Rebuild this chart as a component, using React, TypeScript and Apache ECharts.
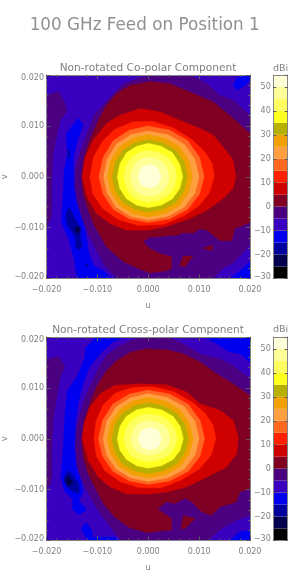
import React, { useEffect, useRef } from "react";
import * as echarts from "echarts";

type P = number[][];

const TITLE = "100 GHz Feed on Position 1";
const CO_TITLE = "Non-rotated Co-polar Component";
const CROSS_TITLE = "Non-rotated Cross-polar Component";
const BAR_TITLE = "dBi";

// dB band lower edges and their colours
const LEVELS = [-30, -25, -20, -15, -10, -5, 0, 5, 10, 15, 20, 25, 30, 35, 40, 45, 50];
const COLORS = ["#000000", "#00004f", "#00009f", "#0000ee", "#3a00c0", "#4a0080", "#800024", "#cf0000", "#ff2000", "#ff6820", "#ff9f40", "#f0a000", "#b8b000", "#ffff20", "#ffff60", "#ffff98", "#ffffd8"];

// contour outlines, [u, v] in units of 0.001
const frame: P = [[-20, -20], [20, -20], [20, 20], [-20, 20]];

const coBlueStrip: P = [[-13.8, 11.5], [-12.8, 10.2], [-14, 6.8], [-14.7, 3.5], [-14.6, -0.4], [-14, -3.7], [-13, -6.9], [-12.3, -10.9], [-11.7, -14.8], [-10.7, -17.4], [-8.4, -18.7], [-7.2, -20], [-14, -20], [-14.6, -16.1], [-15.6, -12.5], [-17.1, -8.9], [-16.9, -5.6], [-16.7, -2.4], [-16.6, 0.9], [-15.9, 4.8], [-16.2, 8.4]];
const coBlueTopRight: P = [[16.7, 18], [17.5, 19.5], [19.3, 19.9], [20, 19.8], [20, 19], [18.7, 17.7], [17.4, 17]];
const coBlueBottomRight: P = [[16, -20], [17.7, -18.7], [20, -16.7], [20, -20]];
const coNavyBlob: P = [[-16, -6.6], [-15.4, -6.2], [-14.3, -8.3], [-13.2, -10.2], [-13.4, -11.5], [-13, -13.5], [-13.4, -14.3], [-14.3, -14.1], [-14.3, -12.2], [-14.9, -10.9], [-15.9, -9.6], [-16.2, -7.9]];
const coNavySlit: P = [[-15.8, 5.5], [-15.4, 5.2], [-15.5, 3.5], [-15.8, 3.9]];
const coNavySpot: P = [[-12.4, -17.4], [-12.1, -17.1], [-11.9, -17.4], [-12.1, -17.8]];
const coDarkSpot: P = [[-14.5, -10.2], [-14, -9.8], [-13.3, -10.2], [-13.6, -11], [-14.3, -11]];
const coPurpleLeft: P = [[-20, 16], [-17.6, 16.8], [-16.6, 15], [-15.9, 13], [-17.2, 11.1], [-17.9, 8.4], [-18.7, 4.2], [-18.9, -0.4], [-18.9, -5.6], [-19.1, -8.3], [-20, -9.9]];
const coPurpleMain: P = [[20, 12.1], [16.7, 15.1], [14.1, 16], [11.5, 18.3], [8.8, 19.8], [7.5, 20], [1.6, 20], [-1.6, 19.5], [-4.9, 18.3], [-7.5, 15.7], [-10.7, 12.1], [-12.3, 7.8], [-13.4, 4.8], [-14.3, 1.6], [-14.5, -1.7], [-14, -5], [-13, -8.3], [-11.7, -11.5], [-10, -14.8], [-8.7, -17.4], [-6.2, -20], [12.8, -20], [14.7, -18], [16.7, -17], [20, -13.4]];
const coDarkRedMain: P = [[20, 8.5], [16.7, 11.5], [12.8, 14.7], [8.8, 16.4], [4.3, 18.3], [0.3, 18.7], [-3.6, 18], [-6.2, 16.4], [-8.2, 14.1], [-9.8, 11.1], [-11.5, 7.2], [-12.6, 3.9], [-13.1, 0], [-12.8, -3.3], [-11.8, -6.6], [-10.5, -9.8], [-8.2, -13.8], [-4.9, -16.7], [-1.6, -18.2], [0.3, -18.9], [3.6, -18.5], [4.6, -18], [4.6, -15.7], [2.3, -15.1], [0.3, -14.1], [-1, -12.8], [0.3, -11.9], [5.6, -11.5], [6.9, -11], [8.8, -11.1], [10.2, -10.2], [11.5, -10.5], [14.1, -12.6], [16.4, -12.6], [17, -10.2], [20, -9]];
const coIslandA: P = [[6.1, -17.5], [6.9, -15.6], [8.8, -15.6], [7.2, -17.7]];
const coIslandB: P = [[10.8, -14], [12.6, -13.4], [12.6, -14.4], [11.8, -14.4]];
const coRed: P = [[-5.6, 12.1], [-1.6, 13.4], [2.3, 12.8], [6.2, 11.1], [10.2, 9.5], [12.8, 8.2], [14.7, 5.9], [16.7, 3.3], [17.2, 0], [16.7, -2.3], [14.7, -4.3], [11.5, -6.6], [8.2, -8.2], [3.6, -9.8], [0, -10.5], [-4.3, -10.5], [-7.5, -9.2], [-10.2, -7.2], [-12.1, -3.9], [-13, 0], [-12.4, 3.9], [-10.8, 7.2], [-8.2, 10.5]];
const coBright: P = [[13, 0], [12.6, 2.5], [11.2, 4.8], [8.6, 7.3], [5, 9.6], [1, 10.9], [-3, 10.8], [-6.5, 9.4], [-9, 7], [-10.8, 3.8], [-11.5, 0], [-10.9, -3.4], [-9, -6.2], [-6, -8.4], [-2, -9.6], [3, -9.4], [7, -7.7], [10, -5.7], [12, -3.2]];
const co15: P = [[11, 0], [10.1, 3.8], [7.8, 7.1], [4.2, 9.2], [0, 10], [-3.7, 9.2], [-6.9, 7.1], [-8.9, 3.8], [-9.7, 0], [-8.9, -3.4], [-6.9, -6.4], [-3.7, -8.3], [0, -9], [4.2, -8.3], [7.8, -6.4], [10.1, -3.4]];
const co20: P = [[10, 0], [9.2, 3.4], [7.1, 6.4], [3.8, 8.3], [0, 9], [-3.4, 8.3], [-6.3, 6.4], [-8.1, 3.4], [-8.8, 0], [-8.1, -3.2], [-6.3, -6], [-3.4, -7.8], [0, -8.5], [3.8, -7.8], [7.1, -6], [9.2, -3.2]];
const co25: P = [[8.7, 0], [8, 3.2], [6.2, 5.9], [3.3, 7.6], [0, 8.3], [-3, 7.6], [-5.7, 5.9], [-7.4, 3.2], [-8, 0], [-7.4, -3], [-5.7, -5.6], [-3, -7.3], [0, -7.9], [3.3, -7.3], [6.2, -5.6], [8, -3]];
const co30: P = [[7.7, 0], [7.1, 2.8], [5.5, 5.2], [2.9, 6.7], [0, 7.3], [-2.7, 6.7], [-5, 5.2], [-6.5, 2.8], [-7.1, 0], [-6.5, -2.7], [-5, -5], [-2.7, -6.4], [0, -7], [2.9, -6.4], [5.5, -5], [7.1, -2.7]];
const co35: P = [[6.8, 0], [6.2, 2.5], [4.8, 4.7], [2.6, 6], [0, 6.6], [-2.3, 6], [-4.3, 4.7], [-5.6, 2.5], [-6.1, 0], [-5.6, -2.3], [-4.3, -4.3], [-2.3, -5.6], [0, -6.1], [2.6, -5.6], [4.8, -4.3], [6.2, -2.3]];
const co40: P = [[5.6, 0], [5.2, 2], [4, 3.7], [2.1, 4.8], [0, 5.2], [-1.8, 4.8], [-3.4, 3.7], [-4.4, 2], [-4.8, 0], [-4.4, -1.9], [-3.4, -3.6], [-1.8, -4.6], [0, -5], [2.1, -4.6], [4, -3.6], [5.2, -1.9]];
const co45: P = [[4.1, 0], [3.8, 1.5], [2.9, 2.8], [1.6, 3.6], [0, 3.9], [-1.3, 3.6], [-2.5, 2.8], [-3.2, 1.5], [-3.5, 0], [-3.2, -1.5], [-2.5, -2.8], [-1.3, -3.6], [0, -3.9], [1.6, -3.6], [2.9, -2.8], [3.8, -1.5]];
const co50: P = [[2.6, 0], [1.9, 1.7], [0.3, 2.5], [-1.4, 1.8], [-2, 0], [-1.4, -1.6], [0.3, -2.3], [1.9, -1.6]];

const crossBlueMain: P = [[-4.6, 20], [-6.9, 19], [-9.2, 17], [-11.5, 14.1], [-12.8, 10.8], [-13.8, 6.9], [-14.3, 2.9], [-14.3, -1.1], [-14, -5.7], [-13.2, -8.3], [-12.8, -10.3], [-13.6, -12.2], [-12.1, -13.9], [-13.6, -15], [-14.9, -13.9], [-14.9, -11.9], [-16.4, -10.3], [-17.2, -7.7], [-16.7, -1.1], [-16.4, 4.8], [-15.9, 9.4], [-14, 12.3], [-12.5, 15.8], [-12.3, 17.9], [-10.3, 20]];
const crossBlueLow: P = [[-13.2, -17.7], [-12.2, -16.4], [-10.9, -18.3], [-11.1, -19.3], [-6.6, -19.3], [-5.6, -20], [-12, -20]];
const crossBlueTopRight: P = [[10.8, 20], [12.8, 19], [16, 17], [18, 16.7], [20, 15.1], [20, 20]];
const crossBlueBottomRight: P = [[16, -20], [18, -18.3], [20, -18], [20, -20]];
const crossNavy: P = [[-16.6, -7.7], [-15.8, -6.2], [-14.9, -7], [-13.6, -9], [-13.6, -10.8], [-14.9, -10.3], [-16.2, -9.3]];
const crossDark: P = [[-16.4, -8.3], [-15.8, -7.3], [-14.7, -8.6], [-15.6, -9.3]];
const crossPurpleLeft: P = [[-20, 15.6], [-17.6, 16.2], [-16.4, 14.3], [-17.2, 12.3], [-17.9, 8.7], [-18.7, 3.5], [-18.9, -1.8], [-18.9, -7], [-19.2, -9], [-20, -9.8]];
const crossPurpleMain: P = [[20, 11.8], [16.7, 14.4], [14.1, 15.7], [10.2, 16.7], [7.5, 18.3], [5.6, 19.3], [3.6, 20], [0, 20], [-2.9, 19.5], [-5.6, 18.3], [-8.2, 16.4], [-9.5, 14.4], [-10.8, 11.8], [-12.4, 8.2], [-13.4, 4.9], [-14.2, 1.6], [-14.4, -1.6], [-14, -5.6], [-12.8, -8.8], [-11.1, -12.1], [-9.5, -14.7], [-6.2, -19], [-5.2, -20], [11.8, -20], [14.4, -17.7], [17.4, -16], [20, -15.1]];
const crossDarkRedMain: P = [[20, 8.5], [16.7, 10.8], [13.4, 12.8], [10.2, 15.1], [6.9, 16.7], [3.6, 17.5], [-0.3, 17.7], [-3.6, 17], [-6.2, 15.4], [-8.2, 13.4], [-10.2, 10.2], [-11.5, 6.9], [-12.6, 3.6], [-13.1, 0], [-12.8, -3.6], [-11.8, -6.9], [-10.5, -9.5], [-8.8, -12.8], [-6.6, -15.4], [-3.9, -17.4], [-0.3, -18.5], [2.9, -18.1], [4.6, -18], [4.6, -15.7], [1.8, -13.8], [3.6, -12.4], [5.2, -12.8], [7.2, -11.7], [8.5, -12.4], [10.5, -14.4], [12.4, -15.1], [14.1, -13.4], [17.4, -12.4], [18, -10.5], [20, -9.8]];
const crossIsland: P = [[6.4, -17.7], [6.9, -15.1], [9.2, -15.7], [7.2, -17.7]];
const crossRed: P = [[-6.6, 10.5], [-1.6, 10.8], [3.6, 10.6], [7.5, 9.2], [10.2, 6.9], [14.1, 5.6], [16.7, 3.6], [17.7, 0.3], [17.4, -2.9], [15.4, -5.6], [11.5, -7.5], [7.5, -9.5], [3.6, -10.5], [-0.3, -10.9], [-4.3, -10.8], [-7.5, -9.5], [-9.8, -7.5], [-11.8, -4.3], [-13, 0], [-12.6, 2.9], [-11.5, 6.2], [-9.5, 8.8]];
const crossBright: P = [[13.3, 0], [12.8, 2.6], [11.2, 5], [8.8, 7.1], [5, 9.3], [1, 10.2], [-3, 10.1], [-6.5, 9], [-9, 6.5], [-10.3, 3.4], [-10.7, 0], [-10.2, -3.4], [-8.6, -6.2], [-5.6, -8.4], [-2, -9.6], [2.5, -9.7], [6.5, -8.1], [10, -6], [12.4, -3.2]];
const cross15: P = [[11.1, 0], [10.2, 3.6], [7.9, 6.8], [4.2, 8.8], [0, 9.6], [-3.7, 8.8], [-7, 6.8], [-9, 3.6], [-9.8, 0], [-9, -3.4], [-7, -6.4], [-3.7, -8.3], [0, -9], [4.2, -8.3], [7.9, -6.4], [10.2, -3.4]];
const cross20: P = [[10, 0], [9.2, 3.4], [7.1, 6.3], [3.8, 8.1], [0, 8.9], [-3.4, 8.1], [-6.3, 6.3], [-8.2, 3.4], [-8.9, 0], [-8.2, -3.2], [-6.3, -6], [-3.4, -7.7], [0, -8.4], [3.8, -7.7], [7.1, -6], [9.2, -3.2]];
const cross25: P = [[8.9, 0], [8.1, 3.1], [6.3, 5.7], [3.4, 7.4], [0, 8.1], [-3.1, 7.4], [-5.7, 5.7], [-7.4, 3.1], [-8.1, 0], [-7.4, -2.9], [-5.7, -5.5], [-3.1, -7.1], [0, -7.7], [3.4, -7.1], [6.3, -5.5], [8.1, -2.9]];
const cross30: P = [[7.9, 0], [7.3, 2.7], [5.6, 5], [3, 6.5], [0, 7.1], [-2.7, 6.5], [-5.1, 5], [-6.6, 2.7], [-7.2, 0], [-6.6, -2.6], [-5.1, -4.9], [-2.7, -6.3], [0, -6.9], [3, -6.3], [5.6, -4.9], [7.3, -2.6]];
const cross35: P = [[6.9, 0], [6.3, 2.4], [4.9, 4.4], [2.6, 5.7], [0, 6.2], [-2.3, 5.7], [-4.3, 4.4], [-5.6, 2.4], [-6.1, 0], [-5.6, -2.2], [-4.3, -4.1], [-2.3, -5.3], [0, -5.8], [2.6, -5.3], [4.9, -4.1], [6.3, -2.2]];
const cross40: P = [[5.7, 0], [5.2, 1.9], [4, 3.5], [2.2, 4.5], [0, 4.9], [-1.8, 4.5], [-3.4, 3.5], [-4.4, 1.9], [-4.8, 0], [-4.4, -1.7], [-3.4, -3.3], [-1.8, -4.2], [0, -4.6], [2.2, -4.2], [4, -3.3], [5.2, -1.7]];
const cross45: P = [[4.3, 0], [4, 1.4], [3.1, 2.6], [1.6, 3.3], [0, 3.6], [-1.3, 3.3], [-2.4, 2.6], [-3.1, 1.4], [-3.4, 0], [-3.1, -1.3], [-2.4, -2.3], [-1.3, -3], [0, -3.3], [1.6, -3], [3.1, -2.3], [4, -1.3]];
const cross50: P = [[2.7, 0], [2, 1.6], [0.3, 2.3], [-1.4, 1.6], [-2, 0], [-1.4, -1.6], [0.3, -2.2], [2, -1.6]];

// painter's order: [band lower edge, outline]
const coLayers: [number, P][] = [
  [-10, frame], [-15, coBlueStrip], [-15, coBlueTopRight], [-15, coBlueBottomRight],
  [-20, coNavyBlob], [-20, coNavySlit], [-20, coNavySpot], [-25, coDarkSpot],
  [-5, coPurpleLeft], [-5, coPurpleMain], [0, coDarkRedMain], [0, coIslandA], [0, coIslandB],
  [5, coRed], [10, coBright], [15, co15], [20, co20], [25, co25], [30, co30], [35, co35], [40, co40], [45, co45], [50, co50],
];
const crossLayers: [number, P][] = [
  [-10, frame], [-15, crossBlueMain], [-15, crossBlueLow], [-15, crossBlueTopRight], [-15, crossBlueBottomRight],
  [-20, crossNavy], [-25, crossDark],
  [-5, crossPurpleLeft], [-5, crossPurpleMain], [0, crossDarkRedMain], [0, crossIsland],
  [5, crossRed], [10, crossBright], [15, cross15], [20, cross20], [25, cross25], [30, cross30], [35, cross35], [40, cross40], [45, cross45], [50, cross50],
];

const FONT = "DejaVu Sans";
const TEXT = "#808080";
const LINE = "#858585";
const TICK = "#5c5c5c";
const PLOT_LEFT = 46.5;
const PLOT_SIZE = 203.5;
const BAR_LEFT = 273.3;
const BAR_WIDTH = 14.4;
const TOPS = [75, 337];

const color = (level: number) => COLORS[LEVELS.indexOf(level)];

function uvLabel(v: number) {
  const t = Math.abs(v).toFixed(3);
  return v < -1e-9 ? "\u2212" + t : t;
}
const richBase = { color: TEXT, fontSize: 8, fontFamily: FONT };

function buildOption() {
  const grid: any[] = [];
  const xAxis: any[] = [];
  const yAxis: any[] = [];
  const series: any[] = [];

  const box = (pos: string) => ({
    axisLine: { show: true, onZero: false, lineStyle: { color: LINE, width: 1 } },
    axisTick: { show: true, inside: true, length: 4, lineStyle: { color: TICK, width: 1 } },
    minorTick: { show: true, splitNumber: 5, length: 2, lineStyle: { color: TICK, width: 1 } },
    splitLine: { show: false },
    z: 5,
    position: pos,
  });
  const plainLine = { show: true, onZero: false, lineStyle: { color: LINE } };

  TOPS.forEach((top, p) => {
    const base = p * 2;
    grid.push({ left: PLOT_LEFT, top, width: PLOT_SIZE, height: PLOT_SIZE, outerBoundsMode: "none" });
    grid.push({ left: BAR_LEFT, top, width: BAR_WIDTH, height: PLOT_SIZE, outerBoundsMode: "none" });
    const xIndex = xAxis.length;
    const yIndex = yAxis.length;
    xAxis.push({
      ...box("bottom"), type: "value", gridIndex: base, min: -0.02, max: 0.02, interval: 0.01,
      name: "u", nameLocation: "middle", nameGap: 22, nameMoveOverlap: false,
      nameTextStyle: { color: TEXT, fontSize: 8.5, fontFamily: FONT },
      axisLabel: { color: TEXT, fontSize: 8, fontFamily: FONT, margin: 6.5, formatter: uvLabel, hideOverlap: false, showMinLabel: true, showMaxLabel: true },
    });
    xAxis.push({ ...box("top"), type: "value", gridIndex: base, min: -0.02, max: 0.02, interval: 0.01, axisLabel: { show: false } });
    yAxis.push({
      ...box("left"), type: "value", gridIndex: base, min: -0.02, max: 0.02, interval: 0.01,
      name: "v", nameLocation: "middle", nameGap: 38, nameMoveOverlap: false,
      nameTextStyle: { color: TEXT, fontSize: 8.5, fontFamily: FONT },
      axisLabel: {
        color: TEXT, fontSize: 8, fontFamily: FONT, margin: 2.5, hideOverlap: false,
        formatter: (v: number) => (v >= 0.0199 ? `{down|${uvLabel(v)}}` : v <= -0.0199 ? `{up|${uvLabel(v)}}` : uvLabel(v)),
        rich: { down: { ...richBase, padding: [5, 0, 0, 0] }, up: { ...richBase, padding: [0, 0, 5, 0] } },
      },
    });
    yAxis.push({ ...box("right"), type: "value", gridIndex: base, min: -0.02, max: 0.02, interval: 0.01, axisLabel: { show: false } });
    const layers = p === 0 ? coLayers : crossLayers;
    series.push({
      type: "custom", coordinateSystem: "cartesian2d", xAxisIndex: xIndex, yAxisIndex: yIndex, clip: true, silent: true,
      data: layers.map((l, i) => [i, l[0]]),
      renderItem: (params: any, api: any) => {
        const [level, outline] = layers[params.dataIndex];
        return {
          type: "polygon",
          shape: { points: outline.map(([u, v]) => api.coord([u * 0.001, v * 0.001])) },
          style: { fill: color(level), stroke: color(level), lineWidth: 0.3 },
        };
      },
    });

    const barX = xAxis.length;
    const barY = yAxis.length;
    xAxis.push({ type: "value", gridIndex: base + 1, min: 0, max: 1, show: false });
    yAxis.push({
      type: "value", gridIndex: base + 1, min: -30, max: 55, interval: 10, position: "left", z: 5,
      axisLine: plainLine,
      axisTick: { show: true, inside: true, length: 3, lineStyle: { color: TICK } },
      splitLine: { show: false },
      axisLabel: {
        color: TEXT, fontSize: 8, fontFamily: FONT, margin: 2.5, showMaxLabel: false, hideOverlap: false,
        formatter: (v: number) => (v === -30 ? "{up|\u221230}" : v < 0 ? "\u2212" + Math.abs(v) : String(v)),
        rich: { up: { ...richBase, padding: [0, 0, 5, 0] } },
      },
    });
    yAxis.push({
      type: "value", gridIndex: base + 1, min: -30, max: 55, interval: 10, position: "right", z: 5,
      axisLine: plainLine,
      axisTick: { show: true, inside: true, length: 3, lineStyle: { color: TICK } },
      splitLine: { show: false }, axisLabel: { show: false },
    });
    xAxis.push({ type: "value", gridIndex: base + 1, min: 0, max: 1, position: "top", axisLine: plainLine, axisTick: { show: false }, axisLabel: { show: false }, splitLine: { show: false }, z: 5 });
    xAxis.push({ type: "value", gridIndex: base + 1, min: 0, max: 1, position: "bottom", axisLine: plainLine, axisTick: { show: false }, axisLabel: { show: false }, splitLine: { show: false }, z: 5 });
    series.push({
      type: "custom", coordinateSystem: "cartesian2d", xAxisIndex: barX, yAxisIndex: barY, silent: true,
      data: LEVELS.map((l) => [0.5, l]),
      renderItem: (params: any, api: any) => {
        const level = LEVELS[params.dataIndex];
        const a = api.coord([0, level]);
        const b = api.coord([1, level + 5]);
        return {
          type: "polygon",
          shape: { points: [a, [b[0], a[1]], b, [a[0], b[1]]] },
          style: { fill: COLORS[params.dataIndex] },
        };
      },
    });
  });

  const label = (text: string, x: number, y: number, size: number, fill = TEXT) => ({
    type: "text", x, y,
    style: { text, fill, font: `${size}px "${FONT}"`, textAlign: "center", textVerticalAlign: "middle" },
  });

  return {
    animation: false,
    backgroundColor: "#ffffff",
    grid, xAxis, yAxis, series,
    graphic: [
      label(TITLE, 144.7, 23.5, 16.8, "#909090"),
      label(CO_TITLE, 148, 67, 10.6),
      label(CROSS_TITLE, 148, 328.7, 10.6),
      label(BAR_TITLE, 280.5, 67, 9.5),
      label(BAR_TITLE, 280.5, 328.7, 9.5),
    ],
  };
}

export default function App() {
  const ref = useRef<HTMLDivElement>(null);
  useEffect(() => {
    const chart = echarts.init(ref.current!, undefined, { renderer: "svg" });
    chart.setOption(buildOption());
    return () => chart.dispose();
  }, []);
  return <div ref={ref} style={{ position: "absolute", left: 0, top: 0, width: 290, height: 581, filter: "blur(0.35px)" }} />;
}
